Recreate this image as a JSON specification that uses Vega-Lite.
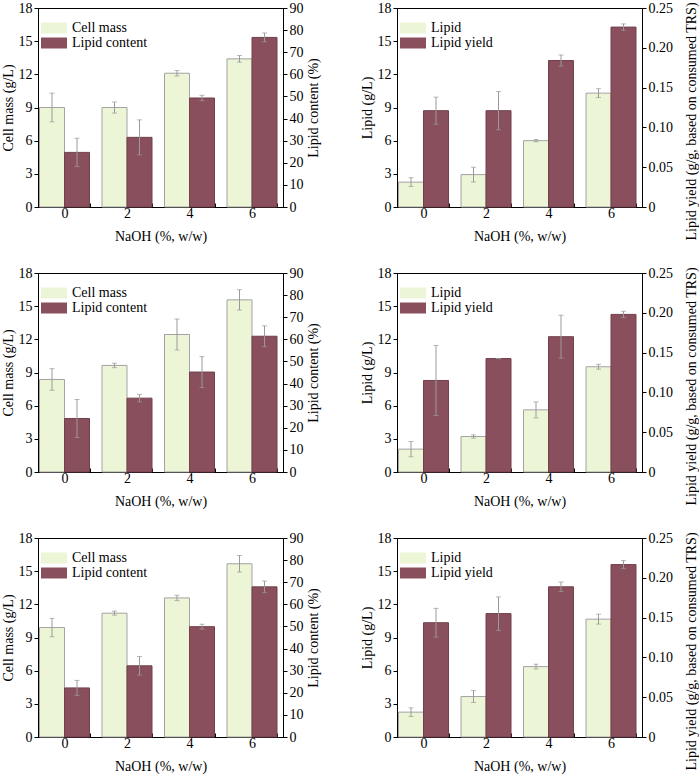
{
"$schema":"https://vega.github.io/schema/vega-lite/v6.json",
"padding":{"left":0,"top":0,"right":0,"bottom":0},
"background":"white",
"datasets":{"d":[
{"p":"a","x":"0","side":"L","s":"Cell mass","v":9.0,"lo":7.7,"hi":10.3},
{"p":"a","x":"2","side":"L","s":"Cell mass","v":9.0,"lo":8.5,"hi":9.5},
{"p":"a","x":"4","side":"L","s":"Cell mass","v":12.1,"lo":11.85,"hi":12.35},
{"p":"a","x":"6","side":"L","s":"Cell mass","v":13.4,"lo":13.1,"hi":13.7},
{"p":"a","x":"0","side":"R","s":"Lipid content","v":24.7,"lo":18.3,"hi":31.1},
{"p":"a","x":"2","side":"R","s":"Lipid content","v":31.5,"lo":23.6,"hi":39.4},
{"p":"a","x":"4","side":"R","s":"Lipid content","v":49.3,"lo":48.1,"hi":50.5},
{"p":"a","x":"6","side":"R","s":"Lipid content","v":76.7,"lo":74.7,"hi":78.7},
{"p":"b","x":"0","side":"L","s":"Lipid","v":2.25,"lo":1.85,"hi":2.65},
{"p":"b","x":"2","side":"L","s":"Lipid","v":2.93,"lo":2.26,"hi":3.6},
{"p":"b","x":"4","side":"L","s":"Lipid","v":6.0,"lo":5.9,"hi":6.1},
{"p":"b","x":"6","side":"L","s":"Lipid","v":10.3,"lo":9.9,"hi":10.7},
{"p":"b","x":"0","side":"R","s":"Lipid yield","v":0.121,"lo":0.104,"hi":0.138},
{"p":"b","x":"2","side":"R","s":"Lipid yield","v":0.121,"lo":0.097,"hi":0.145},
{"p":"b","x":"4","side":"R","s":"Lipid yield","v":0.184,"lo":0.177,"hi":0.191},
{"p":"b","x":"6","side":"R","s":"Lipid yield","v":0.226,"lo":0.222,"hi":0.23},
{"p":"c","x":"0","side":"L","s":"Cell mass","v":8.37,"lo":7.39,"hi":9.35},
{"p":"c","x":"2","side":"L","s":"Cell mass","v":9.64,"lo":9.44,"hi":9.84},
{"p":"c","x":"4","side":"L","s":"Cell mass","v":12.44,"lo":11.04,"hi":13.84},
{"p":"c","x":"6","side":"L","s":"Cell mass","v":15.57,"lo":14.65,"hi":16.49},
{"p":"c","x":"0","side":"R","s":"Lipid content","v":24.2,"lo":15.6,"hi":32.8},
{"p":"c","x":"2","side":"R","s":"Lipid content","v":33.4,"lo":31.7,"hi":35.1},
{"p":"c","x":"4","side":"R","s":"Lipid content","v":45.2,"lo":38.2,"hi":52.2},
{"p":"c","x":"6","side":"R","s":"Lipid content","v":61.4,"lo":56.7,"hi":66.1},
{"p":"d","x":"0","side":"L","s":"Lipid","v":2.07,"lo":1.38,"hi":2.76},
{"p":"d","x":"2","side":"L","s":"Lipid","v":3.21,"lo":3.06,"hi":3.36},
{"p":"d","x":"4","side":"L","s":"Lipid","v":5.62,"lo":4.9,"hi":6.34},
{"p":"d","x":"6","side":"L","s":"Lipid","v":9.52,"lo":9.3,"hi":9.74},
{"p":"d","x":"0","side":"R","s":"Lipid yield","v":0.115,"lo":0.071,"hi":0.159},
{"p":"d","x":"2","side":"R","s":"Lipid yield","v":0.1425,"lo":0.1425,"hi":0.1425},
{"p":"d","x":"4","side":"R","s":"Lipid yield","v":0.170,"lo":0.143,"hi":0.197},
{"p":"d","x":"6","side":"R","s":"Lipid yield","v":0.198,"lo":0.194,"hi":0.202},
{"p":"e","x":"0","side":"L","s":"Cell mass","v":9.9,"lo":9.07,"hi":10.73},
{"p":"e","x":"2","side":"L","s":"Cell mass","v":11.2,"lo":11.02,"hi":11.38},
{"p":"e","x":"4","side":"L","s":"Cell mass","v":12.58,"lo":12.34,"hi":12.82},
{"p":"e","x":"6","side":"L","s":"Cell mass","v":15.67,"lo":14.92,"hi":16.42},
{"p":"e","x":"0","side":"R","s":"Lipid content","v":22.2,"lo":18.8,"hi":25.6},
{"p":"e","x":"2","side":"R","s":"Lipid content","v":32.2,"lo":28.0,"hi":36.4},
{"p":"e","x":"4","side":"R","s":"Lipid content","v":49.9,"lo":48.8,"hi":51.0},
{"p":"e","x":"6","side":"R","s":"Lipid content","v":67.9,"lo":65.3,"hi":70.5},
{"p":"f","x":"0","side":"L","s":"Lipid","v":2.25,"lo":1.86,"hi":2.64},
{"p":"f","x":"2","side":"L","s":"Lipid","v":3.66,"lo":3.12,"hi":4.2},
{"p":"f","x":"4","side":"L","s":"Lipid","v":6.37,"lo":6.16,"hi":6.58},
{"p":"f","x":"6","side":"L","s":"Lipid","v":10.66,"lo":10.21,"hi":11.11},
{"p":"f","x":"0","side":"R","s":"Lipid yield","v":0.1436,"lo":0.1256,"hi":0.1616},
{"p":"f","x":"2","side":"R","s":"Lipid yield","v":0.155,"lo":0.134,"hi":0.176},
{"p":"f","x":"4","side":"R","s":"Lipid yield","v":0.1887,"lo":0.1827,"hi":0.1947},
{"p":"f","x":"6","side":"R","s":"Lipid yield","v":0.2166,"lo":0.2116,"hi":0.2216}
]},
"data":{"name":"d"},
"resolve":{"scale":{"color":"independent","xOffset":"independent"},"legend":{"color":"independent"}},
"spacing":21,
"vconcat":[
{"hconcat":[
{"width":245,"height":199,"transform":[{"filter":"datum.p==='a'"}],"resolve":{"scale":{"y":"independent"}},
"layer":[
{"transform":[{"filter":"datum.side==='L'"}],
"encoding":{"x":{"field":"x","type":"nominal","title":"NaOH (%, w/w)","scale":{"paddingInner":0.2,"paddingOuter":0.06,"align":0.2}},
"y":{"field":"v","type":"quantitative","title":"Cell mass (g/L)","scale":{"domain":[0,18]},"axis":{"values":[0,3,6,9,12,15,18]}}},
"layer":[
{"mark":{"type":"bar","stroke":"#a3a3a3","strokeWidth":1},"encoding":{"xOffset":{"field":"side","type":"nominal","scale":{"domain":["L","R"],"paddingInner":0,"paddingOuter":0}},"color":{"field":"s","type":"nominal","scale":{"domain":["Cell mass","Lipid content"],"range":["#ecf5d6","#8a4f5d"]},"legend":{"orient":"none","legendX":9,"legendY":13,"title":null,"padding":0,"symbolType":"M-2.6,-1.1H2.6V1.1H-2.6Z","symbolSize":100,"symbolStrokeColor":"#999","symbolStrokeWidth":1,"symbolOpacity":1,"labelFont":"Liberation Serif","labelFontSize":14,"labelColor":"black","rowPadding":-2,"labelOffset":11,"encode":{"symbols":{"update":{"fill":{"signal":"datum.value==='Lipid content'||datum.value==='Lipid yield'?'#973f70':'#ecf5d6'"}}}}}}}},
{"mark":{"type":"rule","color":"#9a9a9a","strokeWidth":1},"encoding":{"xOffset":{"field":"side","type":"nominal"},"y":{"field":"lo","type":"quantitative","title":"Cell mass (g/L)"},"y2":{"field":"hi"}}},
{"mark":{"type":"tick","color":"#9a9a9a","size":5,"thickness":1},"encoding":{"xOffset":{"field":"side","type":"nominal"},"y":{"field":"lo","type":"quantitative","title":"Cell mass (g/L)"}}},
{"mark":{"type":"tick","color":"#9a9a9a","size":5,"thickness":1},"encoding":{"xOffset":{"field":"side","type":"nominal"},"y":{"field":"hi","type":"quantitative","title":"Cell mass (g/L)"}}},
{"data":{"values":[{"lab":"a"}]},"mark":{"type":"text","align":"left","baseline":"top","fontWeight":"bold","fontSize":14,"font":"Liberation Serif","dx":-1,"dy":-3,"color":"black"},"encoding":{"x":{"datum":"0","bandPosition":0,"title":"NaOH (%, w/w)"},"y":{"datum":18,"type":"quantitative","title":"Cell mass (g/L)"},"text":{"field":"lab"}}}
]},
{"transform":[{"filter":"datum.side==='R'"}],
"encoding":{"x":{"field":"x","type":"nominal","title":"NaOH (%, w/w)"},
"y":{"field":"v","type":"quantitative","title":"Lipid content (%)","scale":{"domain":[0,90]},"axis":{"orient":"right","values":[0,10,20,30,40,50,60,70,80,90],"titleAngle":270,"titleBaseline":"top"}}},
"layer":[
{"mark":{"type":"bar","stroke":"#70404c","strokeWidth":1},"encoding":{"xOffset":{"field":"side","type":"nominal"},"color":{"field":"s","type":"nominal"}}},
{"mark":{"type":"rule","color":"#9a9a9a","strokeWidth":1},"encoding":{"xOffset":{"field":"side","type":"nominal"},"y":{"field":"lo","type":"quantitative","title":"Lipid content (%)"},"y2":{"field":"hi"}}},
{"mark":{"type":"tick","color":"#9a9a9a","size":5,"thickness":1},"encoding":{"xOffset":{"field":"side","type":"nominal"},"y":{"field":"lo","type":"quantitative","title":"Lipid content (%)"}}},
{"mark":{"type":"tick","color":"#9a9a9a","size":5,"thickness":1},"encoding":{"xOffset":{"field":"side","type":"nominal"},"y":{"field":"hi","type":"quantitative","title":"Lipid content (%)"}}}
]}
]},
{"width":245,"height":199,"transform":[{"filter":"datum.p==='b'"}],"resolve":{"scale":{"y":"independent"}},
"layer":[
{"transform":[{"filter":"datum.side==='L'"}],
"encoding":{"x":{"field":"x","type":"nominal","title":"NaOH (%, w/w)","scale":{"paddingInner":0.2,"paddingOuter":0.06,"align":0.2}},
"y":{"field":"v","type":"quantitative","title":"Lipid (g/L)","scale":{"domain":[0,18]},"axis":{"values":[0,3,6,9,12,15,18]}}},
"layer":[
{"mark":{"type":"bar","stroke":"#a3a3a3","strokeWidth":1},"encoding":{"xOffset":{"field":"side","type":"nominal","scale":{"domain":["L","R"],"paddingInner":0,"paddingOuter":0}},"color":{"field":"s","type":"nominal","scale":{"domain":["Lipid","Lipid yield"],"range":["#ecf5d6","#8a4f5d"]},"legend":{"orient":"none","legendX":9,"legendY":13,"title":null,"padding":0,"symbolType":"M-2.6,-1.1H2.6V1.1H-2.6Z","symbolSize":100,"symbolStrokeColor":"#999","symbolStrokeWidth":1,"symbolOpacity":1,"labelFont":"Liberation Serif","labelFontSize":14,"labelColor":"black","rowPadding":-2,"labelOffset":11,"encode":{"symbols":{"update":{"fill":{"signal":"datum.value==='Lipid content'||datum.value==='Lipid yield'?'#973f70':'#ecf5d6'"}}}}}}}},
{"mark":{"type":"rule","color":"#9a9a9a","strokeWidth":1},"encoding":{"xOffset":{"field":"side","type":"nominal"},"y":{"field":"lo","type":"quantitative","title":"Lipid (g/L)"},"y2":{"field":"hi"}}},
{"mark":{"type":"tick","color":"#9a9a9a","size":5,"thickness":1},"encoding":{"xOffset":{"field":"side","type":"nominal"},"y":{"field":"lo","type":"quantitative","title":"Lipid (g/L)"}}},
{"mark":{"type":"tick","color":"#9a9a9a","size":5,"thickness":1},"encoding":{"xOffset":{"field":"side","type":"nominal"},"y":{"field":"hi","type":"quantitative","title":"Lipid (g/L)"}}},
{"data":{"values":[{"lab":"b"}]},"mark":{"type":"text","align":"left","baseline":"top","fontWeight":"bold","fontSize":14,"font":"Liberation Serif","dx":-1,"dy":-1,"color":"black"},"encoding":{"x":{"datum":"0","bandPosition":0,"title":"NaOH (%, w/w)"},"y":{"datum":18,"type":"quantitative","title":"Lipid (g/L)"},"text":{"field":"lab"}}}
]},
{"transform":[{"filter":"datum.side==='R'"}],
"encoding":{"x":{"field":"x","type":"nominal","title":"NaOH (%, w/w)"},
"y":{"field":"v","type":"quantitative","title":"Lipid yield (g/g, based on consumed TRS)","scale":{"domain":[0,0.25]},"axis":{"orient":"right","values":[0,0.05,0.1,0.15,0.2,0.25],"labelExpr":"datum.value===0?'0':format(datum.value,'.2f')","titleAngle":270,"titleBaseline":"top","titlePadding":12,"titleY":113}}},
"layer":[
{"mark":{"type":"bar","stroke":"#70404c","strokeWidth":1},"encoding":{"xOffset":{"field":"side","type":"nominal"},"color":{"field":"s","type":"nominal"}}},
{"mark":{"type":"rule","color":"#9a9a9a","strokeWidth":1},"encoding":{"xOffset":{"field":"side","type":"nominal"},"y":{"field":"lo","type":"quantitative","title":"Lipid yield (g/g, based on consumed TRS)"},"y2":{"field":"hi"}}},
{"mark":{"type":"tick","color":"#9a9a9a","size":5,"thickness":1},"encoding":{"xOffset":{"field":"side","type":"nominal"},"y":{"field":"lo","type":"quantitative","title":"Lipid yield (g/g, based on consumed TRS)"}}},
{"mark":{"type":"tick","color":"#9a9a9a","size":5,"thickness":1},"encoding":{"xOffset":{"field":"side","type":"nominal"},"y":{"field":"hi","type":"quantitative","title":"Lipid yield (g/g, based on consumed TRS)"}}}
]}
]}
],"spacing":38,"resolve":{"scale":{"color":"independent","xOffset":"independent"},"legend":{"color":"independent"}}},
{"hconcat":[
{"width":245,"height":199,"transform":[{"filter":"datum.p==='c'"}],"resolve":{"scale":{"y":"independent"}},
"layer":[
{"transform":[{"filter":"datum.side==='L'"}],
"encoding":{"x":{"field":"x","type":"nominal","title":"NaOH (%, w/w)","scale":{"paddingInner":0.2,"paddingOuter":0.06,"align":0.2}},
"y":{"field":"v","type":"quantitative","title":"Cell mass (g/L)","scale":{"domain":[0,18]},"axis":{"values":[0,3,6,9,12,15,18]}}},
"layer":[
{"mark":{"type":"bar","stroke":"#a3a3a3","strokeWidth":1},"encoding":{"xOffset":{"field":"side","type":"nominal","scale":{"domain":["L","R"],"paddingInner":0,"paddingOuter":0}},"color":{"field":"s","type":"nominal","scale":{"domain":["Cell mass","Lipid content"],"range":["#ecf5d6","#8a4f5d"]},"legend":{"orient":"none","legendX":9,"legendY":13,"title":null,"padding":0,"symbolType":"M-2.6,-1.1H2.6V1.1H-2.6Z","symbolSize":100,"symbolStrokeColor":"#999","symbolStrokeWidth":1,"symbolOpacity":1,"labelFont":"Liberation Serif","labelFontSize":14,"labelColor":"black","rowPadding":-2,"labelOffset":11,"encode":{"symbols":{"update":{"fill":{"signal":"datum.value==='Lipid content'||datum.value==='Lipid yield'?'#973f70':'#ecf5d6'"}}}}}}}},
{"mark":{"type":"rule","color":"#9a9a9a","strokeWidth":1},"encoding":{"xOffset":{"field":"side","type":"nominal"},"y":{"field":"lo","type":"quantitative","title":"Cell mass (g/L)"},"y2":{"field":"hi"}}},
{"mark":{"type":"tick","color":"#9a9a9a","size":5,"thickness":1},"encoding":{"xOffset":{"field":"side","type":"nominal"},"y":{"field":"lo","type":"quantitative","title":"Cell mass (g/L)"}}},
{"mark":{"type":"tick","color":"#9a9a9a","size":5,"thickness":1},"encoding":{"xOffset":{"field":"side","type":"nominal"},"y":{"field":"hi","type":"quantitative","title":"Cell mass (g/L)"}}},
{"data":{"values":[{"lab":"c"}]},"mark":{"type":"text","align":"left","baseline":"top","fontWeight":"bold","fontSize":14,"font":"Liberation Serif","dx":-1,"dy":-3,"color":"black"},"encoding":{"x":{"datum":"0","bandPosition":0,"title":"NaOH (%, w/w)"},"y":{"datum":18,"type":"quantitative","title":"Cell mass (g/L)"},"text":{"field":"lab"}}}
]},
{"transform":[{"filter":"datum.side==='R'"}],
"encoding":{"x":{"field":"x","type":"nominal","title":"NaOH (%, w/w)"},
"y":{"field":"v","type":"quantitative","title":"Lipid content (%)","scale":{"domain":[0,90]},"axis":{"orient":"right","values":[0,10,20,30,40,50,60,70,80,90],"titleAngle":270,"titleBaseline":"top"}}},
"layer":[
{"mark":{"type":"bar","stroke":"#70404c","strokeWidth":1},"encoding":{"xOffset":{"field":"side","type":"nominal"},"color":{"field":"s","type":"nominal"}}},
{"mark":{"type":"rule","color":"#9a9a9a","strokeWidth":1},"encoding":{"xOffset":{"field":"side","type":"nominal"},"y":{"field":"lo","type":"quantitative","title":"Lipid content (%)"},"y2":{"field":"hi"}}},
{"mark":{"type":"tick","color":"#9a9a9a","size":5,"thickness":1},"encoding":{"xOffset":{"field":"side","type":"nominal"},"y":{"field":"lo","type":"quantitative","title":"Lipid content (%)"}}},
{"mark":{"type":"tick","color":"#9a9a9a","size":5,"thickness":1},"encoding":{"xOffset":{"field":"side","type":"nominal"},"y":{"field":"hi","type":"quantitative","title":"Lipid content (%)"}}}
]}
]},
{"width":245,"height":199,"transform":[{"filter":"datum.p==='d'"}],"resolve":{"scale":{"y":"independent"}},
"layer":[
{"transform":[{"filter":"datum.side==='L'"}],
"encoding":{"x":{"field":"x","type":"nominal","title":"NaOH (%, w/w)","scale":{"paddingInner":0.2,"paddingOuter":0.06,"align":0.2}},
"y":{"field":"v","type":"quantitative","title":"Lipid (g/L)","scale":{"domain":[0,18]},"axis":{"values":[0,3,6,9,12,15,18]}}},
"layer":[
{"mark":{"type":"bar","stroke":"#a3a3a3","strokeWidth":1},"encoding":{"xOffset":{"field":"side","type":"nominal","scale":{"domain":["L","R"],"paddingInner":0,"paddingOuter":0}},"color":{"field":"s","type":"nominal","scale":{"domain":["Lipid","Lipid yield"],"range":["#ecf5d6","#8a4f5d"]},"legend":{"orient":"none","legendX":9,"legendY":13,"title":null,"padding":0,"symbolType":"M-2.6,-1.1H2.6V1.1H-2.6Z","symbolSize":100,"symbolStrokeColor":"#999","symbolStrokeWidth":1,"symbolOpacity":1,"labelFont":"Liberation Serif","labelFontSize":14,"labelColor":"black","rowPadding":-2,"labelOffset":11,"encode":{"symbols":{"update":{"fill":{"signal":"datum.value==='Lipid content'||datum.value==='Lipid yield'?'#973f70':'#ecf5d6'"}}}}}}}},
{"mark":{"type":"rule","color":"#9a9a9a","strokeWidth":1},"encoding":{"xOffset":{"field":"side","type":"nominal"},"y":{"field":"lo","type":"quantitative","title":"Lipid (g/L)"},"y2":{"field":"hi"}}},
{"mark":{"type":"tick","color":"#9a9a9a","size":5,"thickness":1},"encoding":{"xOffset":{"field":"side","type":"nominal"},"y":{"field":"lo","type":"quantitative","title":"Lipid (g/L)"}}},
{"mark":{"type":"tick","color":"#9a9a9a","size":5,"thickness":1},"encoding":{"xOffset":{"field":"side","type":"nominal"},"y":{"field":"hi","type":"quantitative","title":"Lipid (g/L)"}}},
{"data":{"values":[{"lab":"d"}]},"mark":{"type":"text","align":"left","baseline":"top","fontWeight":"bold","fontSize":14,"font":"Liberation Serif","dx":-1,"dy":-1,"color":"black"},"encoding":{"x":{"datum":"0","bandPosition":0,"title":"NaOH (%, w/w)"},"y":{"datum":18,"type":"quantitative","title":"Lipid (g/L)"},"text":{"field":"lab"}}}
]},
{"transform":[{"filter":"datum.side==='R'"}],
"encoding":{"x":{"field":"x","type":"nominal","title":"NaOH (%, w/w)"},
"y":{"field":"v","type":"quantitative","title":"Lipid yield (g/g, based on consumed TRS)","scale":{"domain":[0,0.25]},"axis":{"orient":"right","values":[0,0.05,0.1,0.15,0.2,0.25],"labelExpr":"datum.value===0?'0':format(datum.value,'.2f')","titleAngle":270,"titleBaseline":"top","titlePadding":12,"titleY":113}}},
"layer":[
{"mark":{"type":"bar","stroke":"#70404c","strokeWidth":1},"encoding":{"xOffset":{"field":"side","type":"nominal"},"color":{"field":"s","type":"nominal"}}},
{"mark":{"type":"rule","color":"#9a9a9a","strokeWidth":1},"encoding":{"xOffset":{"field":"side","type":"nominal"},"y":{"field":"lo","type":"quantitative","title":"Lipid yield (g/g, based on consumed TRS)"},"y2":{"field":"hi"}}},
{"mark":{"type":"tick","color":"#9a9a9a","size":5,"thickness":1},"encoding":{"xOffset":{"field":"side","type":"nominal"},"y":{"field":"lo","type":"quantitative","title":"Lipid yield (g/g, based on consumed TRS)"}}},
{"mark":{"type":"tick","color":"#9a9a9a","size":5,"thickness":1},"encoding":{"xOffset":{"field":"side","type":"nominal"},"y":{"field":"hi","type":"quantitative","title":"Lipid yield (g/g, based on consumed TRS)"}}}
]}
]}
],"spacing":38,"resolve":{"scale":{"color":"independent","xOffset":"independent"},"legend":{"color":"independent"}}},
{"hconcat":[
{"width":245,"height":199,"transform":[{"filter":"datum.p==='e'"}],"resolve":{"scale":{"y":"independent"}},
"layer":[
{"transform":[{"filter":"datum.side==='L'"}],
"encoding":{"x":{"field":"x","type":"nominal","title":"NaOH (%, w/w)","scale":{"paddingInner":0.2,"paddingOuter":0.06,"align":0.2}},
"y":{"field":"v","type":"quantitative","title":"Cell mass (g/L)","scale":{"domain":[0,18]},"axis":{"values":[0,3,6,9,12,15,18]}}},
"layer":[
{"mark":{"type":"bar","stroke":"#a3a3a3","strokeWidth":1},"encoding":{"xOffset":{"field":"side","type":"nominal","scale":{"domain":["L","R"],"paddingInner":0,"paddingOuter":0}},"color":{"field":"s","type":"nominal","scale":{"domain":["Cell mass","Lipid content"],"range":["#ecf5d6","#8a4f5d"]},"legend":{"orient":"none","legendX":9,"legendY":13,"title":null,"padding":0,"symbolType":"M-2.6,-1.1H2.6V1.1H-2.6Z","symbolSize":100,"symbolStrokeColor":"#999","symbolStrokeWidth":1,"symbolOpacity":1,"labelFont":"Liberation Serif","labelFontSize":14,"labelColor":"black","rowPadding":-2,"labelOffset":11,"encode":{"symbols":{"update":{"fill":{"signal":"datum.value==='Lipid content'||datum.value==='Lipid yield'?'#973f70':'#ecf5d6'"}}}}}}}},
{"mark":{"type":"rule","color":"#9a9a9a","strokeWidth":1},"encoding":{"xOffset":{"field":"side","type":"nominal"},"y":{"field":"lo","type":"quantitative","title":"Cell mass (g/L)"},"y2":{"field":"hi"}}},
{"mark":{"type":"tick","color":"#9a9a9a","size":5,"thickness":1},"encoding":{"xOffset":{"field":"side","type":"nominal"},"y":{"field":"lo","type":"quantitative","title":"Cell mass (g/L)"}}},
{"mark":{"type":"tick","color":"#9a9a9a","size":5,"thickness":1},"encoding":{"xOffset":{"field":"side","type":"nominal"},"y":{"field":"hi","type":"quantitative","title":"Cell mass (g/L)"}}},
{"data":{"values":[{"lab":"e"}]},"mark":{"type":"text","align":"left","baseline":"top","fontWeight":"bold","fontSize":14,"font":"Liberation Serif","dx":-1,"dy":-3,"color":"black"},"encoding":{"x":{"datum":"0","bandPosition":0,"title":"NaOH (%, w/w)"},"y":{"datum":18,"type":"quantitative","title":"Cell mass (g/L)"},"text":{"field":"lab"}}}
]},
{"transform":[{"filter":"datum.side==='R'"}],
"encoding":{"x":{"field":"x","type":"nominal","title":"NaOH (%, w/w)"},
"y":{"field":"v","type":"quantitative","title":"Lipid content (%)","scale":{"domain":[0,90]},"axis":{"orient":"right","values":[0,10,20,30,40,50,60,70,80,90],"titleAngle":270,"titleBaseline":"top"}}},
"layer":[
{"mark":{"type":"bar","stroke":"#70404c","strokeWidth":1},"encoding":{"xOffset":{"field":"side","type":"nominal"},"color":{"field":"s","type":"nominal"}}},
{"mark":{"type":"rule","color":"#9a9a9a","strokeWidth":1},"encoding":{"xOffset":{"field":"side","type":"nominal"},"y":{"field":"lo","type":"quantitative","title":"Lipid content (%)"},"y2":{"field":"hi"}}},
{"mark":{"type":"tick","color":"#9a9a9a","size":5,"thickness":1},"encoding":{"xOffset":{"field":"side","type":"nominal"},"y":{"field":"lo","type":"quantitative","title":"Lipid content (%)"}}},
{"mark":{"type":"tick","color":"#9a9a9a","size":5,"thickness":1},"encoding":{"xOffset":{"field":"side","type":"nominal"},"y":{"field":"hi","type":"quantitative","title":"Lipid content (%)"}}}
]}
]},
{"width":245,"height":199,"transform":[{"filter":"datum.p==='f'"}],"resolve":{"scale":{"y":"independent"}},
"layer":[
{"transform":[{"filter":"datum.side==='L'"}],
"encoding":{"x":{"field":"x","type":"nominal","title":"NaOH (%, w/w)","scale":{"paddingInner":0.2,"paddingOuter":0.06,"align":0.2}},
"y":{"field":"v","type":"quantitative","title":"Lipid (g/L)","scale":{"domain":[0,18]},"axis":{"values":[0,3,6,9,12,15,18]}}},
"layer":[
{"mark":{"type":"bar","stroke":"#a3a3a3","strokeWidth":1},"encoding":{"xOffset":{"field":"side","type":"nominal","scale":{"domain":["L","R"],"paddingInner":0,"paddingOuter":0}},"color":{"field":"s","type":"nominal","scale":{"domain":["Lipid","Lipid yield"],"range":["#ecf5d6","#8a4f5d"]},"legend":{"orient":"none","legendX":9,"legendY":13,"title":null,"padding":0,"symbolType":"M-2.6,-1.1H2.6V1.1H-2.6Z","symbolSize":100,"symbolStrokeColor":"#999","symbolStrokeWidth":1,"symbolOpacity":1,"labelFont":"Liberation Serif","labelFontSize":14,"labelColor":"black","rowPadding":-2,"labelOffset":11,"encode":{"symbols":{"update":{"fill":{"signal":"datum.value==='Lipid content'||datum.value==='Lipid yield'?'#973f70':'#ecf5d6'"}}}}}}}},
{"mark":{"type":"rule","color":"#9a9a9a","strokeWidth":1},"encoding":{"xOffset":{"field":"side","type":"nominal"},"y":{"field":"lo","type":"quantitative","title":"Lipid (g/L)"},"y2":{"field":"hi"}}},
{"mark":{"type":"tick","color":"#9a9a9a","size":5,"thickness":1},"encoding":{"xOffset":{"field":"side","type":"nominal"},"y":{"field":"lo","type":"quantitative","title":"Lipid (g/L)"}}},
{"mark":{"type":"tick","color":"#9a9a9a","size":5,"thickness":1},"encoding":{"xOffset":{"field":"side","type":"nominal"},"y":{"field":"hi","type":"quantitative","title":"Lipid (g/L)"}}},
{"data":{"values":[{"lab":"f"}]},"mark":{"type":"text","align":"left","baseline":"top","fontWeight":"bold","fontSize":14,"font":"Liberation Serif","dx":-1,"dy":-1,"color":"black"},"encoding":{"x":{"datum":"0","bandPosition":0,"title":"NaOH (%, w/w)"},"y":{"datum":18,"type":"quantitative","title":"Lipid (g/L)"},"text":{"field":"lab"}}}
]},
{"transform":[{"filter":"datum.side==='R'"}],
"encoding":{"x":{"field":"x","type":"nominal","title":"NaOH (%, w/w)"},
"y":{"field":"v","type":"quantitative","title":"Lipid yield (g/g, based on consumed TRS)","scale":{"domain":[0,0.25]},"axis":{"orient":"right","values":[0,0.05,0.1,0.15,0.2,0.25],"labelExpr":"datum.value===0?'0':format(datum.value,'.2f')","titleAngle":270,"titleBaseline":"top","titlePadding":12,"titleY":113}}},
"layer":[
{"mark":{"type":"bar","stroke":"#70404c","strokeWidth":1},"encoding":{"xOffset":{"field":"side","type":"nominal"},"color":{"field":"s","type":"nominal"}}},
{"mark":{"type":"rule","color":"#9a9a9a","strokeWidth":1},"encoding":{"xOffset":{"field":"side","type":"nominal"},"y":{"field":"lo","type":"quantitative","title":"Lipid yield (g/g, based on consumed TRS)"},"y2":{"field":"hi"}}},
{"mark":{"type":"tick","color":"#9a9a9a","size":5,"thickness":1},"encoding":{"xOffset":{"field":"side","type":"nominal"},"y":{"field":"lo","type":"quantitative","title":"Lipid yield (g/g, based on consumed TRS)"}}},
{"mark":{"type":"tick","color":"#9a9a9a","size":5,"thickness":1},"encoding":{"xOffset":{"field":"side","type":"nominal"},"y":{"field":"hi","type":"quantitative","title":"Lipid yield (g/g, based on consumed TRS)"}}}
]}
]}
],"spacing":38,"resolve":{"scale":{"color":"independent","xOffset":"independent"},"legend":{"color":"independent"}}}
],
"config":{
"font":"Liberation Serif",
"view":{"stroke":"black","strokeWidth":1},
"axis":{"labelFont":"Liberation Serif","titleFont":"Liberation Serif","labelFontSize":14,"titleFontSize":14,"titleFontWeight":"normal","labelColor":"black","titleColor":"black","domainColor":"black","tickColor":"black","grid":false,"tickSize":4,"labelPadding":2,"titlePadding":3},
"axisX":{"labelAngle":0,"tickBand":"extent","tickSize":-4,"labelPadding":3,"titlePadding":9}
}
}
